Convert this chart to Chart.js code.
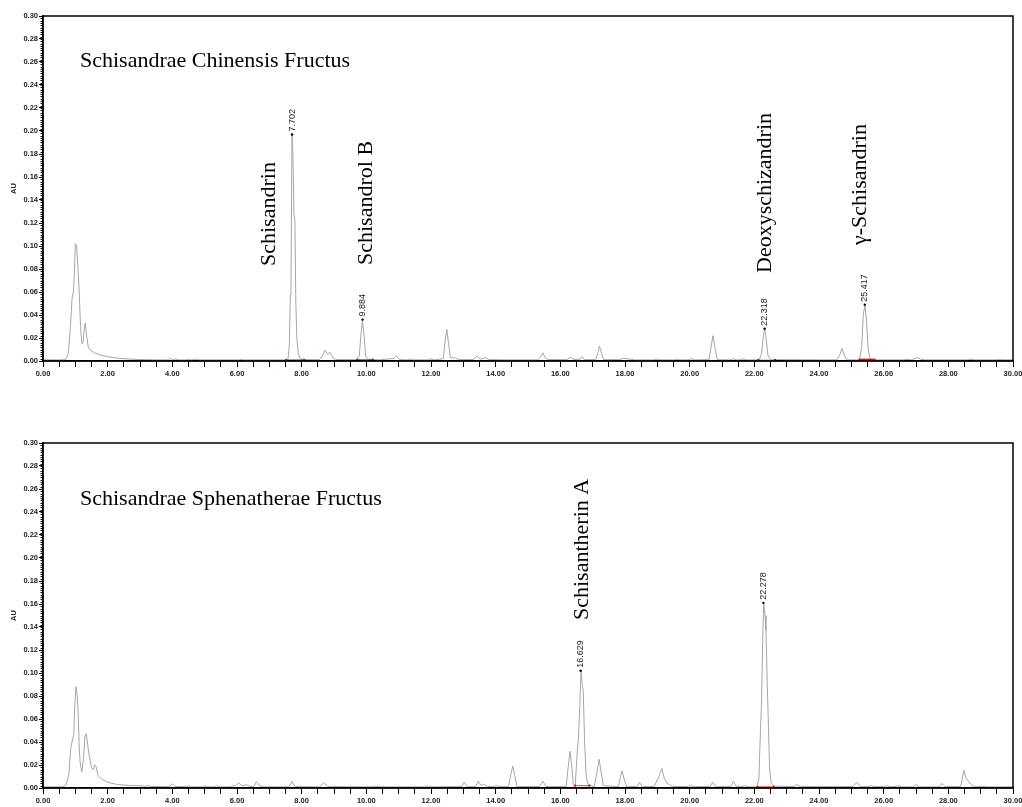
<!DOCTYPE html>
<html>
<head>
<meta charset="utf-8">
<script src="https://cdn.jsdelivr.net/npm/chart.js@4.4.0/dist/chart.umd.min.js"></script>
<style>
body{margin:0;background:#fff;width:1022px;height:807px;overflow:hidden;position:relative}
canvas{position:absolute;left:0}
#topChart{top:0}
#bottomChart{top:420px}
</style>
</head>
<body>
<canvas id="topChart" width="1022" height="390"></canvas>
<canvas id="bottomChart" width="1022" height="387"></canvas>
<script>
//Axis ticks
var xMajor = [0, 2, 4, 6, 8, 10, 12, 14, 16, 18, 20, 22, 24, 26, 28, 30];
var yMajor = [0, 0.02, 0.04, 0.06, 0.08, 0.10, 0.12, 0.14, 0.16, 0.18, 0.20, 0.22, 0.24, 0.26, 0.28, 0.30];

//Schisandrae Chinensis Fructus trace (min, AU)
var topTime = [0.00,0.50,0.70,0.78,0.85,0.90,0.94,0.97,1.00,1.04,1.08,1.12,1.16,1.20,1.24,1.28,1.31,1.35,1.40,1.48,1.60,1.80,2.00,2.30,2.60,3.00,3.50,3.85,3.92,4.00,4.10,4.20,4.45,4.52,4.60,4.72,4.82,5.50,6.05,6.12,6.20,7.50,7.58,7.62,7.65,7.67,7.70,7.73,7.76,7.79,7.82,7.85,7.90,7.96,8.10,8.55,8.65,8.72,8.80,8.88,8.96,9.05,9.70,9.78,9.84,9.88,9.93,9.98,10.05,10.40,10.85,10.93,11.02,11.25,11.35,11.45,11.90,12.00,12.10,12.38,12.44,12.49,12.54,12.60,12.76,12.85,13.30,13.42,13.52,13.68,13.80,14.30,15.30,15.40,15.46,15.53,15.62,16.20,16.32,16.42,16.60,16.66,16.74,17.10,17.17,17.21,17.26,17.34,17.80,17.95,18.10,18.30,18.90,19.00,19.10,19.50,19.60,19.70,19.95,20.05,20.15,20.60,20.66,20.72,20.78,20.85,21.25,21.35,21.45,21.55,21.65,21.75,22.15,22.22,22.28,22.32,22.36,22.42,22.50,24.55,24.64,24.71,24.78,24.86,25.25,25.32,25.37,25.42,25.47,25.52,25.58,25.70,26.60,26.75,26.85,27.05,27.15,27.30,28.60,28.70,28.80,29.40,29.50,30.00];
var topAU = [0.0010,0.0010,0.0012,0.006,0.030,0.055,0.060,0.075,0.102,0.100,0.082,0.060,0.030,0.015,0.016,0.030,0.033,0.022,0.012,0.009,0.007,0.005,0.0037,0.0025,0.0018,0.0013,0.0010,0.0010,0.0022,0.0010,0.0018,0.0010,0.0010,0.0018,0.0010,0.0017,0.0010,0.0010,0.0010,0.0015,0.0010,0.0010,0.002,0.015,0.058,0.062,0.197,0.180,0.128,0.122,0.050,0.020,0.006,0.002,0.0012,0.0012,0.005,0.0095,0.006,0.0075,0.003,0.0012,0.0012,0.004,0.025,0.036,0.022,0.004,0.0015,0.0010,0.0022,0.0045,0.0012,0.0010,0.0018,0.0010,0.0010,0.0018,0.0010,0.002,0.018,0.0275,0.016,0.003,0.0025,0.0012,0.0012,0.0045,0.0015,0.003,0.0012,0.0010,0.0010,0.004,0.0072,0.003,0.0012,0.0012,0.0032,0.0012,0.0015,0.0037,0.0012,0.0012,0.008,0.013,0.008,0.0012,0.0012,0.0022,0.0018,0.0010,0.0010,0.0017,0.0010,0.0010,0.0017,0.0010,0.0010,0.0020,0.0010,0.0012,0.012,0.022,0.012,0.0012,0.0010,0.0020,0.0010,0.0010,0.0018,0.0010,0.0010,0.006,0.022,0.028,0.021,0.005,0.0012,0.0010,0.005,0.011,0.005,0.0010,0.0010,0.012,0.040,0.049,0.035,0.010,0.002,0.0010,0.0010,0.0015,0.0010,0.003,0.0015,0.0010,0.0010,0.0017,0.0010,0.0010,0.0012,0.0010];

//Schisandrae Sphenatherae Fructus trace (min, AU)
var bottomTime = [0.00,0.60,0.72,0.80,0.86,0.92,0.95,0.98,1.02,1.06,1.09,1.12,1.15,1.20,1.25,1.30,1.34,1.38,1.43,1.50,1.55,1.60,1.64,1.70,1.80,2.00,2.30,2.70,3.10,3.20,3.25,3.32,3.90,4.00,4.10,4.45,4.52,4.60,4.95,5.00,5.08,5.30,5.36,5.44,5.80,5.88,5.95,6.05,6.15,6.30,6.42,6.52,6.60,6.68,6.80,7.60,7.70,7.80,8.55,8.68,8.80,10.15,10.22,10.30,10.40,10.48,11.85,11.92,12.00,12.95,13.03,13.12,13.38,13.46,13.55,13.65,13.75,13.95,14.02,14.10,14.40,14.47,14.53,14.59,14.66,15.35,15.46,15.56,16.18,16.25,16.30,16.35,16.40,16.46,16.52,16.56,16.60,16.64,16.68,16.71,16.75,16.80,16.86,17.05,17.14,17.20,17.26,17.33,17.80,17.86,17.91,17.97,18.05,18.38,18.45,18.53,18.90,19.05,19.14,19.22,19.30,19.38,19.48,19.95,20.02,20.10,20.63,20.71,20.80,21.27,21.35,21.43,21.62,21.70,21.80,22.08,22.14,22.19,22.22,22.26,22.29,22.33,22.36,22.40,22.43,22.47,22.52,22.60,23.20,23.31,23.42,25.05,25.17,25.28,25.55,25.62,25.70,26.00,26.10,26.20,26.35,26.45,26.55,26.92,27.00,27.10,27.72,27.80,27.90,28.38,28.43,28.48,28.54,28.62,28.70,28.80,29.05,29.12,29.20,30.00];
var bottomAU = [0.0010,0.0010,0.003,0.012,0.035,0.043,0.046,0.070,0.088,0.080,0.064,0.035,0.022,0.014,0.025,0.046,0.047,0.038,0.028,0.018,0.016,0.020,0.019,0.011,0.008,0.005,0.003,0.0022,0.0018,0.0015,0.0025,0.0013,0.0012,0.0035,0.0012,0.0012,0.0020,0.0010,0.0010,0.0020,0.0010,0.0010,0.0022,0.0010,0.0010,0.0022,0.0017,0.0045,0.0022,0.0027,0.0012,0.0012,0.0055,0.0022,0.0010,0.0010,0.0055,0.0012,0.0010,0.0045,0.0012,0.0010,0.0019,0.0010,0.0017,0.0010,0.0010,0.0019,0.0010,0.0012,0.005,0.0012,0.0012,0.006,0.0022,0.003,0.0012,0.0012,0.0022,0.0012,0.0012,0.012,0.019,0.011,0.0012,0.0012,0.006,0.0012,0.0012,0.020,0.032,0.020,0.003,0.002,0.030,0.044,0.070,0.102,0.090,0.084,0.040,0.010,0.003,0.0012,0.015,0.025,0.014,0.002,0.0012,0.010,0.015,0.008,0.0012,0.0012,0.005,0.0012,0.0012,0.010,0.017,0.008,0.004,0.003,0.0012,0.0014,0.0024,0.0012,0.0012,0.005,0.0012,0.0012,0.006,0.0017,0.0012,0.0022,0.0010,0.0010,0.008,0.050,0.071,0.130,0.161,0.150,0.137,0.090,0.060,0.018,0.004,0.0017,0.0012,0.003,0.0012,0.0012,0.005,0.0012,0.0012,0.0022,0.0012,0.0012,0.0022,0.0012,0.0012,0.0020,0.0010,0.0010,0.003,0.0010,0.0010,0.004,0.0012,0.0012,0.008,0.0155,0.009,0.006,0.003,0.0012,0.0012,0.0017,0.0010,0.0010];

//Labelled peaks (retention time, min)
var topPeakRT = [7.702, 9.884, 22.318, 25.417];
var bottomPeakRT = [16.629, 22.278];

//Compound names
var topNames = ['Schisandrin', 'Schisandrol B', 'Deoxyschizandrin', '\u03B3-Schisandrin'];
var bottomNames = ['Schisantherin A'];

//Integration windows (start, end) in min
var topWindows = [[7.52, 8.08], [9.72, 10.20], [22.12, 22.64], [25.22, 25.75]];
var bottomWindows = [[16.45, 16.90], [22.10, 22.60]];

function toPoints(xs, ys){
    var pts = [];
    for (let i = 0; i < xs.length; i++) {
        pts.push({x: xs[i], y: ys[i]});
    }
    return pts;
}

//trace value at the sample nearest to a time
function traceAt(xs, ys, t){
    var best = 0;
    for (let i = 1; i < xs.length; i++) {
        if (Math.abs(xs[i] - t) < Math.abs(xs[best] - t)) best = i;
    }
    return ys[best];
}

//highest point of the trace close to a retention time
function peakHeight(xs, ys, rt){
    var best = 0;
    for (let i = 0; i < xs.length; i++) {
        if (Math.abs(xs[i] - rt) < 0.1 && ys[i] > best) best = ys[i];
    }
    return best;
}

//frame, minor ticks, titles and peak labels
var decor = {
    id: 'decor',
    afterDatasetsDraw: function(chart, args, o){
        var ctx = chart.ctx, a = chart.chartArea;
        var sx = chart.scales.x, sy = chart.scales.y;
        ctx.save();
        ctx.strokeStyle = '#000';
        ctx.lineWidth = 1.5;
        ctx.strokeRect(a.left, a.top, a.right - a.left, a.bottom - a.top);

        //little ticks every 0.002 AU
        ctx.lineWidth = 1;
        ctx.beginPath();
        for (let k = 0; k <= 150; k++) {
            var py = Math.round(sy.getPixelForValue(k * 0.002)) + 0.5;
            ctx.moveTo(a.left - 2.5, py);
            ctx.lineTo(a.left, py);
        }
        ctx.stroke();

        ctx.fillStyle = '#000';
        ctx.font = '22px "Liberation Serif", "Times New Roman", serif';
        ctx.textAlign = 'left';
        ctx.textBaseline = 'alphabetic';
        ctx.fillText(o.title, o.titlePos[0], o.titlePos[1]);

        o.names.forEach(function(txt, i){
            ctx.save();
            ctx.translate(o.namePos[i][0], o.namePos[i][1]);
            ctx.rotate(-Math.PI / 2);
            ctx.fillText(txt, 0, 0);
            ctx.restore();
        });

        //retention time labels
        ctx.font = '9px "Liberation Sans", Arial, sans-serif';
        ctx.textBaseline = 'middle';
        o.peaks.forEach(function(rt){
            var px = sx.getPixelForValue(rt);
            var py = sy.getPixelForValue(peakHeight(o.xs, o.ys, rt));
            ctx.fillStyle = '#000';
            ctx.beginPath();
            ctx.arc(px, py, 1.2, 0, Math.PI * 2);
            ctx.fill();
            ctx.fillStyle = '#1a1a1a';
            ctx.save();
            ctx.translate(px, py - 3);
            ctx.rotate(-Math.PI / 2);
            ctx.fillText(rt.toFixed(3), 0, 0);
            ctx.restore();
        });
        ctx.restore();
    }
};

function makeChart(id, xs, ys, windows, padTop, xHeight, deco){
    var datasets = [];
    windows.forEach(function(w, i){
        var base = Math.min(traceAt(xs, ys, w[0]), traceAt(xs, ys, w[1]));
        var thick = (i === 3 && id === 'topChart');
        datasets.push({
            data: [{x: w[0], y: base}, {x: w[1], y: base}],
            borderColor: (i === 2 && id === 'topChart') ? '#f3a0a0' : '#e41010',
            backgroundColor: '#e00000',
            borderWidth: thick ? 2.5 : 0.8,
            pointRadius: thick ? 0 : 1.1,
            pointBorderWidth: 0,
            tension: 0
        });
    });
    datasets.push({
        data: toPoints(xs, ys),
        borderColor: '#a6a6a6',
        borderWidth: 1,
        pointRadius: 0,
        tension: 0
    });

    deco.xs = xs;
    deco.ys = ys;

    var tickFont = { size: 7.5, family: '"Liberation Sans", Arial', weight: 'bold' };

    return new Chart(document.getElementById(id).getContext('2d'), {
        type: 'line',
        data: { datasets: datasets },
        plugins: [decor],
        options: {
            responsive: false,
            animation: false,
            devicePixelRatio: 1,
            layout: { padding: { top: padTop, right: 9, left: 0, bottom: 0 } },
            plugins: {
                legend: { display: false },
                tooltip: { enabled: false },
                decor: deco
            },
            scales: {
                x: {
                    type: 'linear',
                    min: 0,
                    max: 30,
                    afterFit: function(s){
                        s.height = xHeight;
                        s.paddingLeft = 0;
                        s.paddingRight = 0;
                    },
                    afterBuildTicks: function(s){
                        var t = [];
                        for (let k = 0; k <= 60; k++) t.push({value: k * 0.5});
                        s.ticks = t;
                    },
                    ticks: {
                        autoSkip: false,
                        maxRotation: 0,
                        padding: 2,
                        color: '#222',
                        font: tickFont,
                        callback: function(v){ return xMajor.indexOf(v) >= 0 ? v.toFixed(2) : ''; }
                    },
                    grid: { drawOnChartArea: false, tickLength: 6, color: '#000', tickColor: '#000' },
                    border: { color: '#000', width: 1.5 }
                },
                y: {
                    min: 0,
                    max: 0.3,
                    afterFit: function(s){ s.width = 43; },
                    afterBuildTicks: function(s){
                        s.ticks = yMajor.map(function(v){ return {value: v}; });
                    },
                    ticks: {
                        padding: 1,
                        color: '#222',
                        font: tickFont,
                        callback: function(v){ return v.toFixed(2); }
                    },
                    grid: { drawOnChartArea: false, tickLength: 4, color: '#000', tickColor: '#000' },
                    border: { color: '#000', width: 1.5 },
                    title: {
                        display: true,
                        text: 'AU',
                        color: '#222',
                        padding: { top: 9, bottom: 0 },
                        font: tickFont
                    }
                }
            }
        }
    });
}

makeChart('topChart', topTime, topAU, topWindows, 16, 29, {
    title: 'Schisandrae Chinensis Fructus',
    titlePos: [80, 67],
    names: topNames,
    namePos: [[275, 266], [372, 265], [771, 273], [866, 245]],
    peaks: topPeakRT
});

makeChart('bottomChart', bottomTime, bottomAU, bottomWindows, 23, 19, {
    title: 'Schisandrae Sphenatherae Fructus',
    titlePos: [80, 85],
    names: bottomNames,
    namePos: [[588, 200]],
    peaks: bottomPeakRT
});
</script>
</body>
</html>
